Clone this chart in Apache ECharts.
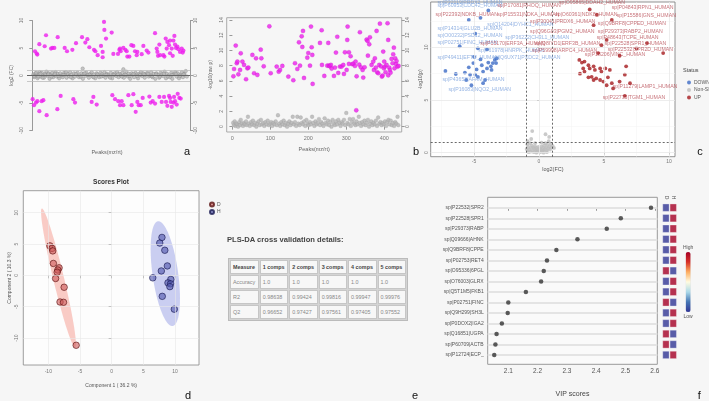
<!DOCTYPE html>
<html>
<head>
<meta charset="utf-8">
<script src="https://cdn.jsdelivr.net/npm/echarts@6/dist/echarts.min.js"></script>
<style>
html,body{margin:0;padding:0;background:#f6f6f6;}
#main{position:absolute;left:0;top:0;width:709px;height:401px;}
#cvTitle{position:absolute;left:227px;top:235px;margin:0;font:bold 7.6px "Liberation Sans",Arial,sans-serif;color:#444;white-space:nowrap;}
#cvTable{position:absolute;left:228px;top:258px;width:180px;border-collapse:separate;border-spacing:1px;border:1px solid #bbb;background:#d4d4d4;font-family:"Liberation Sans",Arial,sans-serif;}
#cvTable td{height:12px;padding:0 2px;background:#f7f7f7;border:1px solid #c6c6c6;font-size:5.4px;color:#888;white-space:nowrap;}
#cvTable tr:first-child td{font-weight:bold;color:#444;}
</style>
</head>
<body>
<div id="main"></div>
<div id="cvTitle">PLS-DA cross validation details:</div>
<table id="cvTable"></table>
<script>
// ---- a: log2(FC) vs peak index ----
const volcA_sig = [[7.6,4.41],[12.4,3.99],[14.2,3.81],[19.9,5.69],[35,5.32],[38.8,7.32],[52.9,4.9],[56.7,5.02],[62.3,5.02],[71.8,6.96],
  [91.6,5.02],[98.2,4.41],[113.3,4.66],[123.6,5.87],[140.6,6.96],[150,5.99],[155.7,6.6],[161.3,5.14],[174.5,4.66],[178.3,4.41],
  [184.9,3.69],[194.3,5.38],[199,4.29],[199,3.32],[202.8,9.75],[203.8,8.29],[208.5,6.72],[224.5,7.81],[229.2,3.93],[242.4,3.93],
  [246.2,4.66],[248.1,4.9],[250,4.41],[257.5,5.02],[263.2,4.66],[267,4.41],[268.8,3.45],[274.5,3.45],[280.2,5.51],[285.8,5.38],
  [290.5,4.41],[295.3,3.69],[297.1,4.29],[309.4,3.87],[314.1,5.38],[323.5,4.54],[328.3,4.17],[347.1,7.69],[351.8,4.9],[353.7,4.29],
  [355.6,3.57],[359.4,5.63],[361.3,3.69],[370.7,3.69],[373.5,3.45],[377.3,6.72],[380.1,4.9],[382,6.11],[386.7,5.51],[389.6,6.35],
  [389.6,4.05],[394.3,4.9],[397.1,3.57],[399,6.35],[401.8,7.2],[403.7,5.63],[406.5,5.02],[410.3,5.26],[413.1,4.78],[417.8,4.29],
  [422.5,4.9],[425.4,4.17],[427.3,4.54],
  [1,-4.31],[4.8,-5.4],[10.5,-4.92],[14.2,-4.67],[19.9,-6.49],[26.5,-4.67],[31.2,-4.49],[40.6,-7.22],[70.8,-6.13],[80.2,-3.71],
  [116.1,-4.31],[120.8,-4.92],[167.9,-4.8],[172.7,-3.89],[182.1,-5.28],[226.4,-3.58],[234,-4.31],[243.4,-4.67],[248.1,-5.4],[252.8,-4.67],
  [257.5,-5.4],[271.7,-3.58],[281.1,-5.4],[285.8,-3.4],[292.4,-6.61],[297.1,-4.8],[300.9,-5.4],[306.6,-5.4],[312.2,-4.07],[331.1,-3.83],
  [334.9,-4.92],[340.5,-4.67],[347.1,-5.1],[359.4,-3.89],[366,-4.8],[372.6,-3.89],[378.2,-4.8],[382,-5.52],[386.7,-3.71],[389.6,-4.07],
  [391.4,-4.8],[394.3,-5.7],[399,-4.92],[400.9,-3.89],[403.7,-4.67],[408.4,-5.28],[411.2,-3.34],[415.9,-4.07],[419.7,-4.19]];
const volcA_ns = [[3,0.2],[6,-0.3],[9,0.4],[12,0.1],[15,-0.5],[18,0.3],[21,0.6],[24,-0.2],[27,0.5],[30,0.0],[33,-0.4],[36,0.3],
  [40,0.7],[43,-0.1],[46,0.4],[49,-0.6],[52,0.2],[56,0.5],[59,-0.3],[62,0.1],[66,0.6],[69,-0.2],[72,0.3],[76,-0.5],[79,0.4],
  [83,0.0],[86,-0.3],[90,0.5],[93,0.2],[97,-0.4],[100,0.3],[104,-0.1],[107,0.6],[111,0.1],[114,-0.5],[118,0.4],[121,-0.2],
  [125,0.2],[128,0.5],[132,-0.3],[135,0.0],[139,0.4],[142.5,1.26],[143,-0.6],[146,0.3],[150,-0.1],[153,0.5],[157,0.1],[160,-0.4],
  [164,0.3],[168,0.6],[171,-0.2],[175,0.2],[178,-0.5],[182,0.4],[186,0.0],[189,-0.3],[193,0.5],[197,0.2],[200,-0.1],[204,0.6],
  [207,-0.4],[211,0.3],[215,0.1],[218,-0.2],[222,0.5],[226,-0.5],[229,0.2],[233,0.4],[237,-0.1],[240,0.6],[244,-0.3],[248,0.3],
  [251,0.0],[255,0.5],[257.5,1.14],[259,-0.4],[262,0.2],[266,0.7],[270,-0.2],[273,0.3],[277,-0.6],[281,0.4],[284,0.1],[288,-0.3],
  [292,0.5],[296,0.2],[299,-0.5],[303,0.3],[307,0.6],[310,-0.1],[314,0.4],[318,-0.4],[321,0.2],[325,0.5],[329,-0.2],[333,0.0],
  [336,0.6],[340,-0.3],[344,0.3],[348,-0.6],[351,0.4],[355,0.1],[359,-0.4],[363,0.5],[366,0.2],[370,-0.1],[374,0.7],[378,-0.5],
  [381,0.3],[385,0.0],[389,-0.3],[393,0.5],[396,-0.6],[400,0.2],[404,0.6],[408,-0.2],[411,0.4],[415,-0.5],[419,0.1],[423,0.6],
  [426,-0.3],[430,0.3],[434,0.8],
  [5,-0.1],[11,0.5],[17,-0.2],[23,0.3],[29,-0.4],[38,0.1],[45,0.2],[54,-0.2],[64,0.3],[74,-0.1],[88,0.1],[95,0.6],[109,-0.3],
  [123,0.3],[137,-0.2],[148,0.4],[162,0.1],[173,-0.3],[184,0.2],[195,-0.2],[209,0.1],[220,-0.4],[231,0.1],[242,0.2],[253,-0.2],
  [264,0.1],[275,-0.1],[286,0.3],[297,-0.1],[305,0.1],[316,0.2],[327,0.3],[338,-0.1],[350,0.2],[361,-0.2],[372,0.3],[383,-0.2],
  [395,0.1],[406,0.3],[417,-0.1],[428,0.2],[437,-0.2]];

// ---- b: -log10(p) vs peak index ----
const volcB_sig = [[2.7,6.61],[4.4,7.57],[8.8,10.64],[11.5,8.32],[13.2,8.54],[15.8,6.87],[20.2,7.44],[22,9.63],[26.4,8.54],[30.7,8.1],
  [36,6.22],[39.5,7.66],[42.1,7.75],[52.7,9.41],[57.1,7.01],[62.3,8.97],[65.8,6.79],[74.6,10.11],[76.3,8.97],[82.5,7.92],
  [97.4,13.17],[100.9,7.01],[116.7,7.88],[122,7.22],[125.5,7.44],[131.6,7.97],[147.4,6.57],[160.5,6.09],[164.9,8.32],[171.1,7.57],
  [175.4,11.07],[178.1,8.01],[182.5,11.86],[184.2,10.46],[186,12.56],[188.6,6.39],[197.4,9.06],[200,9.67],[204.4,8.01],[207,13.13],
  [208.8,10.42],[210.5,9.41],[211.4,5.61],[235.1,12.65],[230.7,10.99],[236,8.1],[242.1,6.66],[250,8.01],[252.6,10.99],[254.4,8.01],
  [257,7.92],[259.6,8.1],[261.4,7.62],[267.5,6.66],[270.2,7.75],[272.8,9.72],[276.3,11.8],[278.9,7.05],[283.3,7.88],[287.7,7.88],
  [292.1,8.1],[293.8,6.92],[296.5,9.76],[300.9,7.44],[302.6,11.38],[303.5,13.13],[307,9.76],[307,8.23],[311.4,9.24],[315.8,8.19],
  [318.4,8.27],[322.8,7.97],[324.5,8.54],[326.3,2.15],[327.2,6.61],[334.2,8.14],[335.9,12.39],[338.6,7.79],[343,7.44],[344.7,6.44],
  [348.2,7.79],[353.5,11.42],[356.1,11.25],[357,9.32],[360.5,10.81],[362.3,11.73],[366.6,8.1],[371,8.54],[372.8,7.44],[375.4,8.97],
  [378,7.75],[379.8,12.56],[381.5,7.14],[384.2,7.01],[386.8,8.1],[388.6,13.52],[391.2,7.92],[393.8,6.57],[395.6,6.7],[397.3,9.85],
  [399.1,7.66],[400,8.54],[401.7,7.88],[403.5,7.14],[406.1,8.1],[408.7,13.57],[410.5,11.38],[410.5,6.74],[413.1,7.75],[414.9,7.44],
  [416.6,7.09],[419.3,8.89],[421.9,8.32],[423.6,9.5],[425.4,10.37],[427.1,7.66],[428.9,8.97],[430.7,8.23],[432.4,8.62],[435,7.88],[437.7,7.97]];
const volcB_ns = [[2,0.5],[4,0.2],[6,0.7],[8,0.1],[10,0.4],[13,0.3],[15,0.0],[18,0.6],[20,0.2],[22,0.9],[25,0.4],[28,0.1],
  [30,0.5],[33,0.3],[36,0.7],[38,0.2],[41,1.3],[43,0.4],[46,0.1],[49,0.6],[52,0.3],[54,0.8],[57,0.2],[60,0.5],[63,0.0],[66,0.4],
  [69,0.7],[72,0.2],[75,0.9],[78,0.3],[81,0.5],[84,0.1],[87,0.6],[90,0.3],[93,0.8],[96,0.2],[99,0.4],[102,0.6],[105,0.1],[108,0.5],
  [111,0.3],[114,0.7],[117,0.2],[120,1.5],[123,0.4],[126,0.1],[129,0.6],[132,0.3],[135,0.8],[138,0.2],[141,0.5],[144,0.0],[147,0.4],
  [150,0.7],[153,0.2],[156,0.5],[159,1.3],[162,0.3],[165,0.6],[168,0.1],[171,1.3],[174,0.4],[177,0.2],[180,1.2],[183,0.5],[186,0.3],
  [189,0.7],[192,0.1],[195,0.9],[198,0.4],[201,0.2],[204,0.6],[207,0.3],[210,1.3],[213,0.5],[216,0.1],[219,0.7],[222,0.3],[225,0.5],
  [228,1.0],[231,0.2],[234,0.6],[237,0.4],[240,0.1],[243,1.1],[246,0.5],[249,0.3],[252,0.8],[255,0.2],[258,0.6],[261,0.0],[264,0.9],
  [267,0.4],[270,0.2],[273,0.7],[276,0.3],[279,0.9],[282,0.5],[285,0.1],[288,0.6],[291,0.4],[294,0.9],[297,0.2],[300,1.8],[303,0.5],
  [306,0.3],[309,1.0],[312,0.1],[315,0.6],[318,1.0],[321,0.4],[324,0.2],[327,0.7],[330,0.3],[333,1.3],[336,0.5],[339,0.1],[342,0.6],
  [345,0.3],[348,0.8],[351,0.2],[354,0.5],[357,0.9],[360,0.0],[363,0.4],[366,0.7],[369,0.2],[372,0.5],[375,0.3],[378,0.8],[381,0.1],
  [384,1.2],[387,0.4],[390,0.6],[393,0.2],[396,0.5],[399,0.3],[402,0.7],[405,0.1],[408,0.6],[411,0.9],[414,0.3],[417,0.8],[420,0.2],
  [423,0.5],[426,0.1],[429,0.6],[432,0.4],[435,1.3],[437,0.2]];

// ---- c: volcano ----
const volcC_down = [[-7.2,7.76],[-6.4,7.47],[-5.7,7.6],[-5.4,8.1],[-5.3,7.4],[-5.05,8.5],[-4.8,7.9],[-4.7,7.2],[-5.2,6.4],[-4.4,8.3],
  [-4.3,7.7],[-4.15,6.9],[-4.0,8.0],[-3.9,8.55],[-3.7,8.2],[-3.55,8.5],[-3.4,8.8],[-3.25,8.95],[-3.3,8.5],[-3.65,7.85],[-4.5,8.85],
  [-5.0,9.1],[-6.1,10.1],[-4.9,11.3],[-5.4,12.6],[-4.5,12.8],[-3.9,13.5],[-4.7,9.9],[-4.0,9.8],[-4.9,7.4],[-4.3,6.6],[-5.6,6.9]];
const volcC_up = [[3.1,8.8],[3.3,8.55],[3.5,8.65],[3.15,7.5],[3.8,8.3],[3.9,8.0],[4.2,8.2],[4.3,7.85],[4.05,7.2],[4.2,6.9],[4.4,7.05],
  [4.7,6.9],[4.95,6.75],[4.8,7.7],[5.1,8.0],[5.45,7.85],[5.6,6.6],[6.2,6.75],[6.6,7.4],[6.7,8.2],[7.0,6.6],[5.2,6.4],[6.6,5.4],
  [5.7,6.1],[3.4,8.0],[4.55,9.45],[4.8,10.2],[5.2,10.7],[4.2,12.1],[3.9,13.6],[4.45,13.1],[5.6,12.6],[7.5,9.9],[8.3,10.4],[9.55,9.45],
  [6.2,9.2],[4.7,8.0],[5.3,7.15],[3.8,7.15],[3.5,7.7]];
const volcC_ns = [[-0.95,0.35],[-0.9,0.8],[-0.85,0.15],[-0.8,0.55],[-0.75,0.3],[-0.7,0.9],[-0.65,0.1],[-0.6,0.45],[-0.55,0.7],
  [-0.5,0.2],[-0.45,0.5],[-0.4,0.05],[-0.35,0.35],[-0.3,0.6],[-0.25,0.25],[-0.2,0.45],[-0.15,0.1],[-0.1,0.3],[-0.05,0.55],[0,0.2],
  [0.05,0.4],[0.1,0.05],[0.15,0.3],[0.2,0.6],[0.25,0.15],[0.3,0.45],[0.35,0.25],[0.4,0.7],[0.45,0.35],[0.5,0.9],[0.55,0.5],[0.6,0.2],
  [0.65,0.75],[0.7,0.4],[0.75,1.1],[0.8,0.6],[0.85,0.3],[0.9,0.85],[0.95,0.5],[1.05,0.65],[1.15,0.45],[-0.88,1.1],[-0.6,1.3],
  [-0.52,2.05],[0.5,1.75],[0.78,1.5],[-0.3,0.9],[0.2,0.95],[-0.8,0.05],[0.6,0.05],[-0.2,0.0],[0.35,0.0]];
// label anchors (text start) for the repelled names
const volcC_labelsDown = [
  ['sp|P32119|PRDX2_HUMAN',-7.81,14.22],['sp|P60953|CDC42_HUMAN',-7.81,13.93],['sp|Q14204|DYHC1_HUMAN',-3.98,12.19],
  ['sp|P14314|GLU2B_HUMAN',-7.81,11.81],['sp|O00232|PSD12_HUMAN',-7.81,11.11],['sp|P36222|CH3L1_HUMAN',-2.6,10.92],
  ['sp|P02751|FINC_HUMAN',-7.81,10.42],['sp|P61978|HNRPK_HUMAN',-4.67,9.69],['sp|P49411|EFTU_HUMAN',-7.81,9.06],
  ['sp|Q6UX71|PXDC2_HUMAN',-3.52,9.06],['sp|P43652|AFAM_HUMAN',-7.43,6.9],['sp|P16083|NQO2_HUMAN',-6.97,6.02]];
const volcC_labelsUp = [
  ['sp|P22392|NDKB_HUMAN',-7.96,13.06],['sp|P17081|RHOQ_HUMAN',-3.22,13.93],['sp|P15531|NDKA_HUMAN',-3.22,13.06],
  ['sp|O60361|NDK8_HUMAN',1.23,13.06],['sp|O95865|DDAH2_HUMAN',1.53,14.22],['sp|P04843|RPN1_HUMAN',5.59,13.74],
  ['sp|P15586|GNS_HUMAN',5.97,12.98],['sp|P30041|PRDX6_HUMAN',-0.69,12.44],['sp|Q9BRF8|CPPED_HUMAN',4.52,12.22],
  ['sp|Q96G03|PGM2_HUMAN',-0.69,11.49],['sp|P29373|RABP2_HUMAN',4.52,11.51],['sp|P48643|TCPE_HUMAN',4.44,10.92],
  ['sp|P15170|ERF3A_HUMAN',-4.52,10.39],['sp|Q8IYD1|ERF3B_HUMAN',-0.31,10.39],['sp|P22528|SPR1_HUMAN',5.05,10.39],
  ['sp|P59998|ARPC4_HUMAN',-0.54,9.66],['sp|P22532|SPR2D_HUMAN',5.28,9.75],['sp|P18206|VINC_HUMAN',3.52,9.33],
  ['sp|P11279|LAMP1_HUMAN',5.67,6.27],['sp|P22735|TGM1_HUMAN',4.9,5.22]];

// ---- d: PLS-DA scores ----
const pcaD = [[-9.75,4.7],[-9.4,4.3],[-9.3,3.9],[-9.2,1.9],[-8.3,1.2],[-8.5,0.85],[-8.6,0.5],[-8.85,-0.5],[-7.5,-1.9],[-8.15,-4.25],[-7.6,-4.3],[-5.6,-11.15]];
const pcaH = [[7.95,6.05],[7.6,5.15],[8.4,4.0],[8.8,1.5],[7.85,0.7],[6.5,-0.4],[9.35,-0.65],[8.9,-1.2],[9.3,-1.35],[9.2,-1.8],[8.0,-3.35],[9.9,-5.4]];

// ---- e: cross validation table ----
const cvHeader = ['Measure','1 comps','2 comps','3 comps','4 comps','5 comps'];
const cvAccuracy = ['1.0','1.0','1.0','1.0','1.0'];
const cvR2 = ['0.98638','0.99424','0.99816','0.99947','0.99976'];
const cvQ2 = ['0.96652','0.97427','0.97561','0.97405','0.97552'];

// ---- f: VIP scores ----
const vipNames = ['sp|P22532|SPR2','sp|P22528|SPR1','sp|P29373|RABP','sp|Q09666|AHNK','sp|Q9BRF8|CPPE','sp|P02753|RET4','sp|O95336|6PGL',
  'sp|O76003|GLRX','sp|Q5T1M5|FKB1','sp|P02751|FINC','sp|Q9H299|SH3L','sp|P0DOX2|IGA2','sp|Q16851|UGPA','sp|P60709|ACTB','sp|P12724|ECP_'];
const vipScores = [2.587,2.484,2.436,2.336,2.264,2.232,2.221,2.212,2.160,2.100,2.098,2.078,2.060,2.056,2.052];
const vipD = [0,0,0,0,0,0,1,0,0,1,0,0,1,1,0];
const vipH = [1,1,1,1,1,1,0,1,1,0,1,1,0,0,1];

// table
let htm = '<tr>' + cvHeader.map(h => `<td>${h}</td>`).join('') + '</tr>';
[['Accuracy', cvAccuracy], ['R2', cvR2], ['Q2', cvQ2]].forEach(r => {
  htm += `<tr><td>${r[0]}</td>` + r[1].map(v => `<td>${v}</td>`).join('') + '</tr>';
});
document.getElementById('cvTable').innerHTML = htm;

const ff = '"Liberation Sans", Arial, sans-serif';
const lab = { fontSize: 5, color: '#777', fontFamily: ff };

function ellipseOf(pts) {
  const n = pts.length;
  let mx = 0, my = 0;
  pts.forEach(p => { mx += p[0]; my += p[1]; });
  mx /= n; my /= n;
  let sxx = 0, syy = 0, sxy = 0;
  pts.forEach(p => { const dx = p[0] - mx, dy = p[1] - my; sxx += dx * dx; syy += dy * dy; sxy += dx * dy; });
  sxx /= n - 1; syy /= n - 1; sxy /= n - 1;
  const tr = sxx + syy, det = sxx * syy - sxy * sxy, d = Math.sqrt(tr * tr / 4 - det);
  const l1 = tr / 2 + d, l2 = tr / 2 - d;
  const k = 5.991; // chi-square 95%, 2 df
  return { cx: mx, cy: my, a: Math.sqrt(l1 * k), b: Math.sqrt(Math.max(l2, 0) * k), ang: Math.atan2(l1 - sxx, sxy) };
}
function ellipseSeries(pts, fill) {
  const e = ellipseOf(pts);
  return {
    type: 'custom', xAxisIndex: 3, yAxisIndex: 5, z: 2, silent: true, clip: false,
    data: [[e.cx, e.cy]],
    renderItem: function (params, api) {
      const poly = [];
      for (let i = 0; i < 90; i++) {
        const t = i / 90 * Math.PI * 2;
        const u = e.a * Math.cos(t), v = e.b * Math.sin(t);
        poly.push(api.coord([e.cx + u * Math.cos(e.ang) - v * Math.sin(e.ang), e.cy + u * Math.sin(e.ang) + v * Math.cos(e.ang)]));
      }
      return { type: 'polygon', shape: { points: poly }, style: { fill: fill } };
    }
  };
}
function labelSeries(list, color) {
  return {
    type: 'scatter', xAxisIndex: 2, yAxisIndex: 4, symbolSize: 0.1, z: 6, silent: true,
    data: list.map(l => ({ name: l[0], value: [l[1], l[2]] })),
    label: { show: true, position: 'right', distance: 0, formatter: '{b}', fontSize: 5.2, color: color, fontFamily: ff }
  };
}
const gridLine = (c, w) => ({ color: c, width: w, type: 'solid' });
const noSym = ['none', 'none'];

const option = {
  animation: false,
  backgroundColor: '#f6f6f6',
  textStyle: { fontFamily: ff },
  grid: [
    { left: 27, top: 20.5, width: 163, height: 110 },
    { left: 226.7, top: 17.7, width: 175, height: 114.3, show: true, borderColor: '#aaa', borderWidth: 1 },
    { left: 430.7, top: 2, width: 244.3, height: 154.7, show: true, backgroundColor: '#fff', borderColor: '#777', borderWidth: 0.8 },
    { left: 23.3, top: 190.7, width: 175.7, height: 174.3, show: true, backgroundColor: '#fdfdfd', borderColor: '#888', borderWidth: 0.8 },
    { left: 487.7, top: 197.3, width: 169.6, height: 167, show: true, backgroundColor: '#fafafa', borderColor: '#999', borderWidth: 1 },
    { left: 662.3, top: 202.4, width: 14.6, height: 157.8 }
  ],
  xAxis: [
    { gridIndex: 0, type: 'value', min: -15, max: 446, show: false },
    { gridIndex: 1, type: 'value', min: -15, max: 446, splitLine: { show: false },
      axisLine: { show: false },
      axisTick: { customValues: [0, 100, 200, 300, 400], length: 3, lineStyle: { color: '#999' } },
      axisLabel: { customValues: [0, 100, 200, 300, 400], margin: 3, fontSize: 5.5, color: '#777' },
      name: 'Peaks(mz/rt)', nameLocation: 'middle', nameGap: 14, nameTextStyle: { fontSize: 5.5, color: '#666' } },
    { gridIndex: 2, type: 'value', min: -8.33, max: 10.46, splitLine: { show: false }, axisLine: { show: false },
      axisTick: { customValues: [-5, 0, 5, 10], length: 2, lineStyle: { color: '#666' } },
      axisLabel: Object.assign({ customValues: [-5, 0, 5, 10], margin: 2 }, lab),
      name: 'log2(FC)', nameLocation: 'middle', nameGap: 10, nameTextStyle: { fontSize: 5.5, color: '#555' } },
    { gridIndex: 3, type: 'value', min: -13.95, max: 13.8, splitLine: { show: false }, axisLine: { show: false },
      axisTick: { customValues: [-10, -5, 0, 5, 10], length: 3, lineStyle: { color: '#888' } },
      axisLabel: Object.assign({ customValues: [-10, -5, 0, 5, 10], margin: 4 }, lab),
      name: 'Component 1 ( 36.2 %)', nameLocation: 'middle', nameGap: 18, nameTextStyle: { fontSize: 5, color: '#555' } },
    { gridIndex: 4, type: 'value', min: 2.0297, max: 2.6085, splitLine: { show: false }, axisLine: { show: false },
      axisTick: { customValues: [2.1, 2.2, 2.3, 2.4, 2.5, 2.6], length: 3, lineStyle: { color: '#999' } },
      axisLabel: { customValues: [2.1, 2.2, 2.3, 2.4, 2.5, 2.6], formatter: v => v.toFixed(1), fontSize: 6.5, color: '#555', margin: 3 },
      name: 'VIP scores', nameLocation: 'middle', nameGap: 26, nameTextStyle: { fontSize: 7, color: '#444' } },
    { gridIndex: 5, type: 'category', data: ['D', 'H'], position: 'top', axisLine: { show: false }, axisTick: { show: false },
      axisLabel: { rotate: 90, fontSize: 5, color: '#555', margin: 3 } }
  ],
  yAxis: [
    { gridIndex: 0, type: 'value', min: -10, max: 10, interval: 5, splitLine: { show: false },
      axisLine: { show: true, lineStyle: { color: '#999' } }, axisTick: { length: 3, lineStyle: { color: '#999' } },
      axisLabel: Object.assign({ rotate: 90, margin: 3 }, lab),
      name: 'log2 (FC)', nameLocation: 'middle', nameGap: 13, nameTextStyle: { fontSize: 5, color: '#666' } },
    { gridIndex: 0, type: 'value', min: -10, max: 10, interval: 5, position: 'right', splitLine: { show: false },
      axisLine: { show: true, lineStyle: { color: '#999' } }, axisTick: { length: 3, lineStyle: { color: '#999' } },
      axisLabel: Object.assign({ rotate: 90, margin: 3 }, lab) },
    { gridIndex: 1, type: 'value', min: -0.7, max: 14.3, splitLine: { show: false }, axisLine: { show: false },
      axisTick: { customValues: [0, 2, 4, 6, 8, 10, 12, 14], length: 3, lineStyle: { color: '#999' } },
      axisLabel: Object.assign({ customValues: [0, 2, 4, 6, 8, 10, 12, 14], rotate: 90, margin: 3 }, lab),
      name: '-log10(raw p)', nameLocation: 'middle', nameGap: 14, nameTextStyle: { fontSize: 5, color: '#666' } },
    { gridIndex: 1, type: 'value', min: -0.7, max: 14.3, position: 'right', splitLine: { show: false }, axisLine: { show: false },
      axisTick: { customValues: [0, 2, 4, 6, 8, 10, 12, 14], length: 3, lineStyle: { color: '#999' } },
      axisLabel: Object.assign({ customValues: [0, 2, 4, 6, 8, 10, 12, 14], rotate: 90, margin: 3 }, lab) },
    { gridIndex: 2, type: 'value', min: -0.38, max: 14.3, splitLine: { show: false }, axisLine: { show: false },
      axisTick: { customValues: [0, 5, 10], length: 2, lineStyle: { color: '#666' } },
      axisLabel: Object.assign({ customValues: [0, 5, 10], rotate: 90, margin: 2 }, lab),
      name: '-log10(p)', nameLocation: 'middle', nameGap: 6, nameTextStyle: { fontSize: 5, color: '#555' } },
    { gridIndex: 3, type: 'value', min: -14.3, max: 13.5, splitLine: { show: false }, axisLine: { show: false },
      axisTick: { customValues: [-10, -5, 0, 5, 10], length: 3, lineStyle: { color: '#888' } },
      axisLabel: Object.assign({ customValues: [-10, -5, 0, 5, 10], rotate: 90, margin: 4 }, lab),
      name: 'Component 2 ( 10.3 %)', nameLocation: 'middle', nameGap: 11, nameTextStyle: { fontSize: 5, color: '#555' } },
    { gridIndex: 4, type: 'value', inverse: true, min: -1, max: 14.88, splitLine: { show: false }, axisLine: { show: false },
      axisTick: { show: false },
      axisLabel: { customValues: vipNames.map((n, i) => i), formatter: v => vipNames[Math.round(v)] || '', fontSize: 5, color: '#555', margin: 4 } },
    { gridIndex: 5, type: 'category', data: vipNames, inverse: true, show: false }
  ],
  legend: [
    { data: ['DOWN', 'Non-SIG', 'UP'], orient: 'vertical', left: 682, top: 75, itemWidth: 4, itemHeight: 4, itemGap: 2.5,
      icon: 'circle', textStyle: { fontSize: 5, color: '#555', padding: [0, 0, 0, -2] } },
    { data: ['D', 'H'], orient: 'vertical', left: 204, top: 196.5, itemWidth: 4, itemHeight: 4, itemGap: 1.5,
      icon: 'circle', textStyle: { fontSize: 5, color: '#555', padding: [0, 0, 0, -2] } }
  ],
  visualMap: {
    type: 'continuous', min: 0, max: 1, seriesIndex: 16, dimension: 2, calculable: false,
    left: 683, top: 245, padding: 0, itemWidth: 5, itemHeight: 60, text: ['High', 'Low'], textGap: 2,
    textStyle: { fontSize: 5, color: '#555' },
    inRange: { color: ['#313695', '#4575b4', '#abd9e9', '#fffbe0', '#fdae61', '#d73027', '#a50026'] }
  },
  series: [
    { type: 'scatter', xAxisIndex: 0, yAxisIndex: 0, data: volcA_ns, symbolSize: 3.5, z: 3,
      itemStyle: { color: '#b8b8b8', borderColor: '#7c7c7c', borderWidth: 0.4 },
      markLine: { silent: true, symbol: noSym, label: { show: false },
        data: [{ yAxis: 0, lineStyle: gridLine('#666', 1) }, { yAxis: 1, lineStyle: gridLine('#bbb', 0.8) }, { yAxis: -1, lineStyle: gridLine('#bbb', 0.8) }] } },
    { type: 'scatter', xAxisIndex: 0, yAxisIndex: 0, data: volcA_sig, symbolSize: 4.2, z: 4, itemStyle: { color: '#ee1fee' } },
    { type: 'scatter', xAxisIndex: 1, yAxisIndex: 2, data: volcB_ns, symbolSize: 3.8, z: 3,
      itemStyle: { color: '#b4b4b4', borderColor: '#999', borderWidth: 0.3 } },
    { type: 'scatter', xAxisIndex: 1, yAxisIndex: 2, data: volcB_sig, symbolSize: 4.2, z: 4,
      itemStyle: { color: '#ee1fee', borderColor: '#c010c0', borderWidth: 0.3 } },
    { type: 'scatter', xAxisIndex: 2, yAxisIndex: 4, data: [], z: 1,
      markLine: { silent: true, symbol: noSym, label: { show: false },
        data: [-7.5, -2.5, 2.5, 7.5].map(v => ({ xAxis: v, lineStyle: gridLine('#f3f3f3', 0.5) }))
          .concat([2.5, 7.5, 12.5].map(v => ({ yAxis: v, lineStyle: gridLine('#f3f3f3', 0.5) })))
          .concat([-5, 0, 5, 10].map(v => ({ xAxis: v, lineStyle: gridLine('#e8e8e8', 0.8) })))
          .concat([0, 5, 10].map(v => ({ yAxis: v, lineStyle: gridLine('#e8e8e8', 0.8) })))
          .concat([-1, 1].map(v => ({ xAxis: v, lineStyle: { color: '#444', width: 0.8, type: [2, 2] } })))
          .concat([{ yAxis: 1, lineStyle: { color: '#444', width: 0.8, type: [2, 2] } }]) } },
    { name: 'Non-SIG', type: 'scatter', xAxisIndex: 2, yAxisIndex: 4, data: volcC_ns, symbolSize: 3.8, z: 3, itemStyle: { color: '#bdbdbd' } },
    { name: 'DOWN', type: 'scatter', xAxisIndex: 2, yAxisIndex: 4, data: volcC_down, symbolSize: 3.8, z: 4, itemStyle: { color: '#3d6cc6' } },
    { name: 'UP', type: 'scatter', xAxisIndex: 2, yAxisIndex: 4, data: volcC_up, symbolSize: 3.8, z: 4, itemStyle: { color: '#a51a1e' } },
    labelSeries(volcC_labelsDown, 'rgba(98,144,214,0.85)'),
    labelSeries(volcC_labelsUp, 'rgba(170,40,50,0.82)'),
    { type: 'scatter', xAxisIndex: 3, yAxisIndex: 5, data: [], z: 1,
      markLine: { silent: true, symbol: noSym, label: { show: false },
        data: [-10, -5, 0, 5, 10].map(v => ({ xAxis: v, lineStyle: gridLine('#e8e8e8', 0.6) }))
          .concat([-10, -5, 0, 5, 10].map(v => ({ yAxis: v, lineStyle: gridLine('#e8e8e8', 0.6) }))) } },
    ellipseSeries(pcaD, 'rgba(246,170,160,0.6)'),
    ellipseSeries(pcaH, 'rgba(160,168,232,0.55)'),
    { name: 'D', type: 'scatter', xAxisIndex: 3, yAxisIndex: 5, data: pcaD, symbolSize: 6.5, z: 4,
      itemStyle: { color: 'rgba(205,90,90,0.75)', borderColor: '#5a1010', borderWidth: 0.8 } },
    { name: 'H', type: 'scatter', xAxisIndex: 3, yAxisIndex: 5, data: pcaH, symbolSize: 6.5, z: 4,
      itemStyle: { color: 'rgba(85,90,175,0.8)', borderColor: '#181850', borderWidth: 0.8 } },
    { type: 'scatter', xAxisIndex: 4, yAxisIndex: 6, data: vipScores.map((v, i) => [v, i]), symbolSize: 4.5, z: 4,
      itemStyle: { color: '#333' },
      markLine: { silent: true, symbol: noSym, label: { show: false }, z: 1,
        data: vipNames.map((n, i) => ({ yAxis: i, lineStyle: gridLine('#e4e4e4', 2) })) } },
    { type: 'scatter', xAxisIndex: 5, yAxisIndex: 7, symbol: 'rect', symbolSize: [6.4, 7.4], z: 4,
      itemStyle: { borderColor: '#fff', borderWidth: 0.4 },
      data: vipNames.map((n, i) => ['D', n, vipD[i]]).concat(vipNames.map((n, i) => ['H', n, vipH[i]])) }
  ],
  graphic: [
    { type: 'text', x: 107, y: 152, style: { text: 'Peaks(mz/rt)', fontSize: 5.5, fill: '#666', fontFamily: ff, align: 'center', verticalAlign: 'middle' } },
    { type: 'text', x: 683, y: 70, style: { text: 'Status', fontSize: 5.5, fill: '#444', fontFamily: ff, align: 'left', verticalAlign: 'middle' } },
    { type: 'text', x: 111, y: 182.7, style: { text: 'Scores Plot', fontSize: 6.5, fontWeight: 'bold', fill: '#333', fontFamily: ff, align: 'center', verticalAlign: 'middle' } }
  ].concat([['a', 187, 152], ['b', 416, 152], ['c', 700, 151.7], ['d', 188, 396], ['e', 415, 396], ['f', 699.3, 396]].map(p => ({
    type: 'text', x: p[1], y: p[2], style: { text: p[0], fontSize: 11, fill: '#111', fontFamily: ff, align: 'center', verticalAlign: 'middle' }
  })))
};

const chart = echarts.init(document.getElementById('main'));
chart.setOption(option);
</script>
</body>
</html>
